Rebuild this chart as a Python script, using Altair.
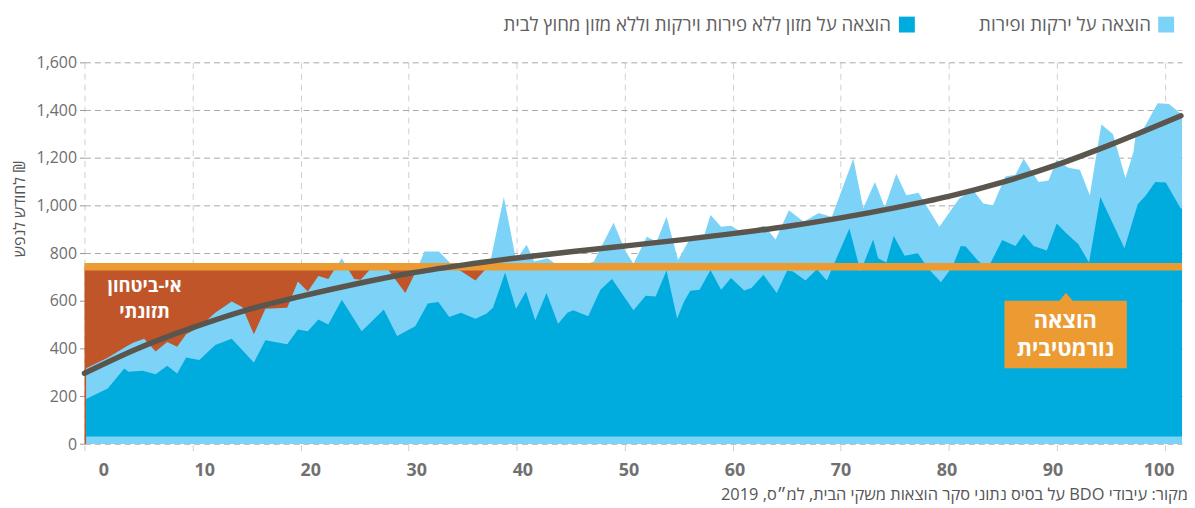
import altair as alt
import pandas as pd

FONT = "Open Sans, Liberation Sans, Arial, sans-serif"
C_LIGHT = "#7dd3f7"
C_DARK = "#00acde"
C_RED = "#c1552a"
C_ORANGE = "#ec9b33"
C_CURVE = "#5a564e"

# ---- data ----
# total spending on food (top of light-blue area)
fv_x = [0.15, 2.15, 3.68, 4.5, 5.52, 6.59, 7.66, 8.58, 9.41, 10.63, 12.1, 13.63, 14.6, 15.68,
        16.75, 18.77, 19.75, 20.67, 21.65, 22.57, 23.82, 24.96, 25.57, 26.6, 28.0, 29.7, 30.8,
        31.47, 32.82, 34.0, 34.8, 36.19, 37.0, 37.6, 38.82, 39.95, 40.93, 41.64, 42.86, 43.8,
        45.2, 46.3, 47.15, 48.98, 50.06, 50.82, 52.05, 52.96, 53.88, 54.95, 56.18, 57.4, 57.95,
        58.93, 59.85, 60.62, 61.69, 62.91, 63.98, 65.21, 66.58, 67.96, 69.18, 71.17, 72.09,
        73.17, 74.08, 75.15, 76.07, 77.2, 79.14, 80.97, 82.27, 83.2, 84.1, 85.25, 86.18, 86.94,
        88.32, 89.24, 90.0, 91.07, 92.14, 93.06, 94.13, 95.2, 96.36, 97.1, 97.34, 98.1, 99.34,
        100.4, 101.5, 101.6]
fv_total = [318, 362, 404, 425, 442, 388, 428, 408, 460, 490, 550, 598, 575, 460,
            567, 571, 682, 640, 705, 692, 779, 692, 689, 740, 738, 633, 735,
            807, 807, 752, 727, 686, 727, 772, 1036, 772, 835, 765, 779, 750,
            748, 752, 765, 928, 810, 756, 869, 848, 953, 772, 872, 880, 960,
            911, 915, 893, 897, 915, 858, 980, 932, 969, 952, 1196, 988,
            1098, 993, 1133, 1043, 1053, 911, 1029, 1064, 1008, 1001, 1122, 1129, 1196,
            1098, 1105, 1192, 1158, 1150, 1043, 1339, 1300, 1115, 1223, 1307, 1327, 1428,
            1425, 1383, 1383]

# food without fruit/vegetables and without eating out (top of dark-blue area)
food_x = [0.15, 2.15, 3.68, 4.08, 5.37, 6.59, 7.66, 8.58, 9.41, 10.63, 12.1, 13.63, 15.68,
          16.75, 18.77, 19.75, 20.67, 21.65, 22.57, 23.82, 25.66, 27.71, 28.94, 30.62, 31.78,
          32.76, 33.77, 34.84, 36.19, 37.2, 37.81, 38.94, 39.95, 40.87, 41.73, 42.77, 43.84,
          44.7, 45.25, 46.63, 47.76, 48.83, 50.82, 51.95, 52.87, 53.88, 54.86, 55.5, 56.08,
          56.94, 57.95, 58.93, 59.85, 61.07, 61.74, 62.85, 64.08, 65.05, 65.6, 66.74, 67.8,
          68.72, 70.81, 71.84, 73.01, 73.47, 74.23, 74.91, 75.92, 77.14, 78.07, 79.28, 80.35,
          81.12, 81.58, 82.65, 83.6, 84.95, 86.18, 86.94, 87.86, 89.08, 90.0, 90.91, 91.99,
          92.99, 94.04, 96.27, 97.5, 98.26, 99.12, 100.1, 101.42, 101.6]
food_y = [189, 233, 317, 303, 307, 293, 328, 296, 363, 353, 415, 442, 342,
          435, 418, 480, 473, 522, 501, 605, 473, 564, 453, 494, 589,
          596, 533, 550, 525, 546, 571, 719, 567, 640, 519, 633, 504,
          550, 561, 536, 647, 692, 561, 622, 619, 728, 526, 598, 643,
          647, 730, 647, 696, 644, 654, 710, 633, 728, 723, 686, 733,
          686, 904, 723, 858, 779, 761, 872, 789, 800, 738, 678, 744,
          830, 828, 772, 735, 855, 830, 880, 830, 811, 925, 883, 839,
          761, 1036, 821, 1005, 1043, 1098, 1096, 992, 985]
DARK_BASE = 32

# trend curve
curve_x = [0, 5, 10, 15, 20, 25, 30, 35, 40, 45, 50, 55, 60, 65, 70, 75, 80, 85, 90, 95, 101.5]
curve_y = [297, 402, 488, 562, 619, 670, 715, 750, 780, 806, 830, 855, 882, 912, 948, 990,
           1038, 1098, 1170, 1255, 1376]

NORM = 743              # normative spending line
INSECURE_X = [0, 38.2]  # stretch where spending falls below the norm

x_ticks = [0, 10, 20, 30, 40, 50, 60, 70, 80, 90, 100]
y_ticks = [0, 200, 400, 600, 800, 1000, 1200, 1400, 1600]

RLE, PDF = "\u202b", "\u202c"
LEG1 = "הוצאה על ירקות ופירות"
LEG2 = "הוצאה על מזון ללא פירות וירקות וללא מזון מחוץ לבית"
SRC = "מקור: עיבודי BDO על בסיס נתוני סקר הוצאות משקי הבית, למ״ס, 2019"
Y_TITLE = "לחודש לנפש ₪"

W, H = 1105, 394

xs = alt.Scale(domain=[0, 101.6], nice=False, zero=False)
ys = alt.Scale(domain=[-40, 1600], nice=False, zero=False)

AX = alt.Axis(values=x_ticks, grid=True, gridColor="#cfcfcf", gridDash=[6, 5], gridWidth=1,
              ticks=False, domain=False, labelFont=FONT, labelFontSize=18,
              labelFontWeight="bold", labelColor="#707070", labelPadding=8,
              labelOffset=alt.ExprRef(expr="13.8 - 0.2*datum.value"), title=None)
AY = alt.Axis(values=y_ticks, format=",d", grid=True, gridColor="#a8a8a8", gridDash=[6, 4],
              gridWidth=1, tickColor="#999999", tickSize=5, domain=False, labelFont=FONT,
              labelFontSize=16, labelColor="#6e6e6e", labelPadding=3, title=Y_TITLE,
              titleFont=FONT, titleFontSize=16, titleFontWeight="normal", titleColor="#555555",
              titleAngle=270, titleX=-65, titleY=147, titleAlign="center",
              titleBaseline="middle")


def X(f="x"):
    return alt.X(f"{f}:Q", scale=xs, axis=AX)


def Y(f="y"):
    return alt.Y(f"{f}:Q", scale=ys, axis=AY)


red_df = pd.DataFrame({"x": INSECURE_X, "y": [NORM + 2] * 2, "b": [0, 0]})
light_df = pd.DataFrame({"x": fv_x, "y": fv_total, "b": [0] * len(fv_x)})
dark_df = pd.DataFrame({"x": food_x, "y": food_y, "b": [DARK_BASE] * len(food_x)})
norm_df = pd.DataFrame({"y": [NORM]})
curve_df = pd.DataFrame({"x": curve_x, "y": curve_y})

red = alt.Chart(red_df).mark_area(color=C_RED).encode(x=X(), y=Y(), y2="b:Q")
light = alt.Chart(light_df).mark_area(color=C_LIGHT).encode(x=X(), y=Y(), y2="b:Q")
dark = alt.Chart(dark_df).mark_area(color=C_DARK).encode(x=X(), y=Y(), y2="b:Q")
norm = alt.Chart(norm_df).mark_rule(color=C_ORANGE, strokeWidth=7.5).encode(y=Y())
curve = alt.Chart(curve_df).mark_line(color=C_CURVE, strokeWidth=5.5, interpolate="monotone",
                                      strokeCap="round").encode(x=X(), y=Y())

# annotation: normative spending box
box_df = pd.DataFrame({"x": [85.16], "x2": [96.49], "y": [318], "y2": [601]})
box = alt.Chart(box_df).mark_rect(color=C_ORANGE).encode(x=X(), x2="x2:Q", y=Y(), y2="y2:Q")
ptr_df = pd.DataFrame({"x": [90.86], "y": [601]})
ptr = alt.Chart(ptr_df).mark_point(shape="M-1,0.15L0,-1.07L1,0.15Z", size=225, filled=True,
                                   opacity=1, color=C_ORANGE).encode(x=X(), y=Y())

lab_df = pd.DataFrame({
    "x": [5.56, 5.56, 90.8, 90.8],
    "y": [662, 552, 516, 400],
    "t": [RLE + "אי-ביטחון" + PDF, RLE + "תזונתי" + PDF, RLE + "הוצאה" + PDF,
          RLE + "נורמטיבית" + PDF],
    "s": [18.5, 18.5, 22, 22],
})
labs = alt.Chart(lab_df).mark_text(font=FONT, fontWeight="bold", color="white",
                                   align="center", baseline="middle").encode(
    x=X(), y=Y(), text="t:N", size=alt.Size("s:Q", scale=None, legend=None))

one = pd.DataFrame({"k": [0]})


def square(xpx, color):
    return alt.Chart(one).mark_square(size=256, color=color, filled=True, opacity=1).encode(
        x=alt.value(xpx), y=alt.value(-38))


def label(xpx, ypx, text, size, color):
    return alt.Chart(one).mark_text(text=RLE + text + PDF, align="right", baseline="middle",
                                    font=FONT, fontSize=size, color=color).encode(
        x=alt.value(xpx), y=alt.value(ypx))


legend = [square(1089, C_LIGHT), label(1073.6, -38, LEG1, 18.8, "#606060"),
          square(828, C_DARK), label(812, -38, LEG2, 18.8, "#606060")]
source = label(1111, 435.4, SRC, 16.5, "#555555")

chart = alt.layer(red, light, dark, norm, curve, box, ptr, labs, *legend, source).properties(
    width=W, height=H,
    padding={"left": 77, "top": 53, "right": 5, "bottom": 50},
    autosize=alt.AutoSizeParams(type="none"),
).configure_view(stroke=None)

chart.save("out.html", embed_options={"renderer": "svg", "actions": False})
